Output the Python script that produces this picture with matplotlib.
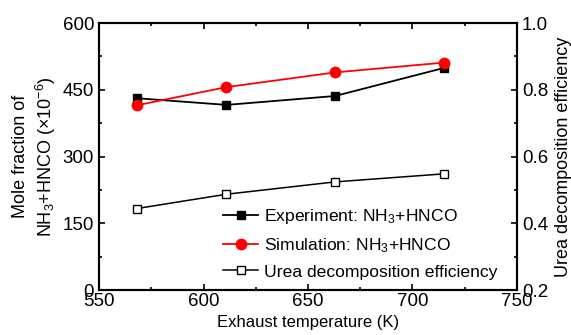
import matplotlib.pyplot as plt
from matplotlib.ticker import MultipleLocator

plt.rcParams['font.family'] = ['Liberation Sans', 'DejaVu Sans']
plt.rcParams['mathtext.fontset'] = 'custom'
plt.rcParams['mathtext.rm'] = 'Liberation Sans'
plt.rcParams['mathtext.it'] = 'Liberation Sans'

# data
temps = [568, 611, 663, 715]
experiment = [431, 416, 436, 499]
simulation = [415, 456, 489, 511]
efficiency = [0.444, 0.487, 0.524, 0.548]

fig = plt.figure(figsize=(5.71, 3.35), dpi=100)
ax = fig.add_axes([0.1734, 0.1343, 0.732, 0.797])
ax2 = ax.twinx()

l1, = ax.plot(temps, experiment, color='black', marker='s', markersize=6, lw=1.3,
              label='Experiment: NH$_3$+HNCO')
l2, = ax.plot(temps, simulation, color='red', marker='o', markersize=7.5, lw=1.3,
              label='Simulation: NH$_3$+HNCO')
l3, = ax2.plot(temps, efficiency, color='black', marker='s', markersize=6, lw=1.1,
               markerfacecolor='white', label='Urea decomposition efficiency')

ax.set_xlim(550, 750)
ax.set_ylim(0, 600)
ax2.set_ylim(0.2, 1.0)
ax.xaxis.set_major_locator(MultipleLocator(50))
ax.xaxis.set_minor_locator(MultipleLocator(25))
ax.yaxis.set_major_locator(MultipleLocator(150))
ax.yaxis.set_minor_locator(MultipleLocator(75))
ax2.yaxis.set_major_locator(MultipleLocator(0.2))
ax2.yaxis.set_minor_locator(MultipleLocator(0.1))

ax.tick_params(which='both', direction='in', top=True, labelsize=13.5, width=1.2)
ax.tick_params(which='major', length=4)
ax.tick_params(which='minor', length=2.5)
ax.tick_params(axis='x', pad=2)
ax2.tick_params(which='both', direction='in', labelsize=13.5, width=1.2)
ax2.tick_params(which='major', length=4)
ax2.tick_params(which='minor', length=2.5)
for a in (ax, ax2):
    for s in a.spines.values():
        s.set_linewidth(1.5)

ax.set_xlabel('Exhaust temperature (K)', fontsize=12, labelpad=4)
ax.set_ylabel('Mole fraction of\nNH$_3$+HNCO ($\\times$10$^{-6}$)', fontsize=13,
              labelpad=3, linespacing=1.3)
ax2.set_ylabel('Urea decomposition efficiency', fontsize=13, labelpad=5)

ax.legend(handles=[l1, l2, l3], loc='lower right', frameon=False, fontsize=12.6,
          handlelength=2.0, handletextpad=0.3, labelspacing=0.55,
          bbox_to_anchor=(0.99, -0.02))

fig.savefig('out.png', dpi=100)
